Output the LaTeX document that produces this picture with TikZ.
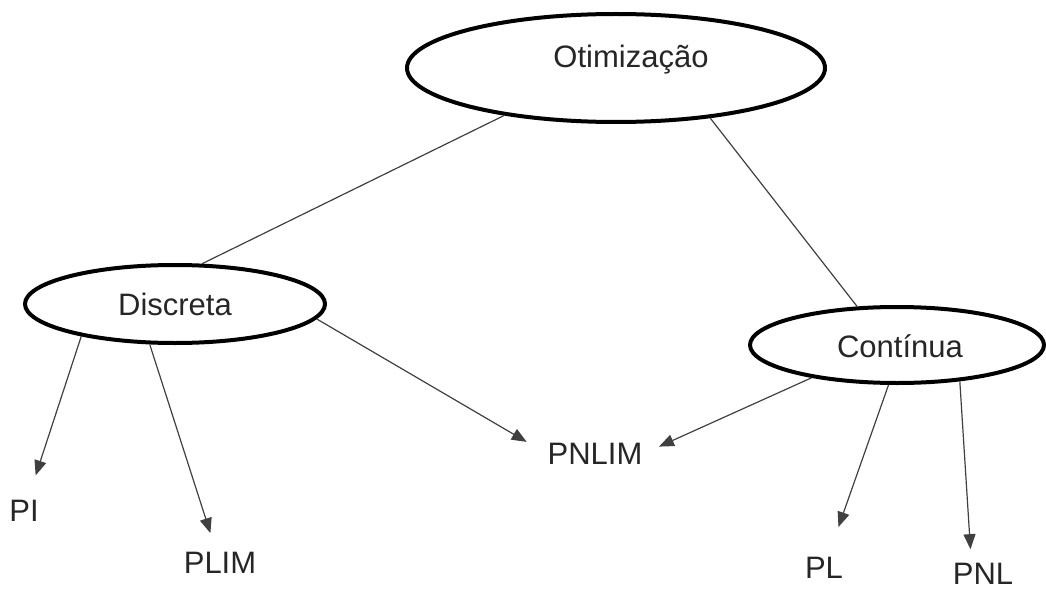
\documentclass[tikz,border=0pt]{standalone}
\usepackage{fontspec}
\setmainfont{Liberation Sans}
\usetikzlibrary{shapes.geometric,arrows.meta}
\begin{document}
\begin{tikzpicture}[x=1pt,y=-1pt,
  font=\fontsize{31}{37}\selectfont,
  oval/.style={draw=black,line width=4pt,ellipse,inner sep=0pt},
  word/.style={inner sep=0pt,text=black!85},
  link/.style={draw=black!75,line width=1.2pt},
  arrowlink/.style={link,-{Triangle[length=15pt,width=12pt]}}]
\useasboundingbox (0,0) rectangle (1046,591);

% the three class ovals
\node[oval,minimum width=418pt,minimum height=108pt] (ot) at (616,68) {};
\node[oval,minimum width=300pt,minimum height=78pt] (di) at (175,304) {};
\node[oval,minimum width=294pt,minimum height=76pt] (ct) at (897,345) {};

% oval captions
\node[word,anchor=base] (otT) at (631,68) {Otimização};
\node[word,anchor=base] (diT) at (175,315) {Discreta};
\node[word,anchor=base] (ctT) at (900,357) {Contínua};

% leaf labels
\node[word] (pi) at (24,511) {PI};
\node[word] (plim) at (220,563) {PLIM};
\node[word] (pnlim) at (595,454) {PNLIM};
\node[word] (pl) at (824,568) {PL};
\node[word] (pnl) at (983,574) {PNL};

% branches from the root
\draw[link] (ot.203) -- (di.56);
\draw[link] (ot.332) -- (ct.136);

% arrows to the leaves
\draw[arrowlink,shorten >=26pt] (di.199) -- (pi);
\draw[arrowlink,shorten >=20pt] (di.238) -- (plim);
\draw[arrowlink,shorten >=24pt] (di.354) -- (pnlim.west);
\draw[arrowlink,shorten >=18pt] (ct.201) -- (pnlim.east);
\draw[arrowlink,shorten >=32pt] (ct.258) -- (pl);
\draw[arrowlink,shorten >=14pt] (ct.330) -- (pnl.137);
\end{tikzpicture}
\end{document}
